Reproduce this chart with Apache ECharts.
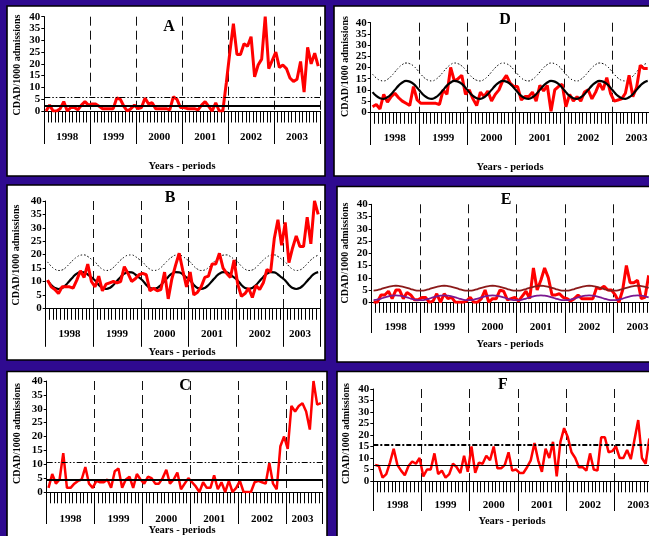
<!DOCTYPE html>
<html>
<head>
<meta charset="utf-8">
<title>CDAD rates by period, 1998-2003</title>
<script src="https://cdn.jsdelivr.net/npm/echarts@6.0.0/dist/echarts.min.js"></script>
<style>
  html, body { margin: 0; padding: 0; background: #2f0a90; }
  #chart { width: 649px; height: 536px; }
</style>
</head>
<body>
<div id="chart"></div>
<script>
// Years and number of four-week periods shown in each year
const years = ['1998', '1999', '2000', '2001', '2002', '2003'];
const periodsFull = [13, 13, 13, 13, 13, 13];
const periodsShort = [13, 13, 13, 13, 13, 10];
const yTicks = { min: 0, max: 40, step: 5 };

// CDAD per 1000 admissions, one value per period
const rateA = [
  0, 2.5, 0, 0, 1, 4, 0, 1.5, 1.5, 0.5, 2.5, 4, 2.5,
  3, 3, 2, 1, 1, 1, 1, 5.5, 5, 2, 0, 1, 2.5,
  1, 1.5, 5.5, 3, 3.5, 1, 1, 1, 1, 0.5, 6, 5, 1.5,
  1.5, 1, 1, 1, 0.5, 2.5, 4, 2, 0, 3.5, 0, 0, 12,
  25, 37, 24, 24, 28.5, 27.5, 31.5, 14.5, 19.5, 22, 40, 18, 21.5,
  25, 18.5, 19.5, 18, 14, 12.5, 13.5, 21, 8, 27, 20, 24.5, 19
];
const rateB = [
  10.5, 8, 7, 5.5, 8, 8, 8, 7.5, 10.5, 14, 11.5, 16.5, 10,
  8, 12, 6.5, 9, 9.5, 10, 9.5, 10, 15.5, 13, 10, 11, 12.5,
  13, 12.5, 6.5, 7.5, 6.5, 7, 13.5, 3.5, 11, 16, 20.5, 14, 8,
  13.5, 5, 6, 8, 11.5, 12, 16.5, 16.5, 20.5, 15, 13, 11.5, 18,
  9, 4.5, 5.5, 7.5, 4, 8.5, 7, 9.5, 14.5, 13.5, 26, 33, 23.5,
  32, 17, 22.5, 27, 23, 23, 34, 24, 40, 35
];
const rateC = [
  1.5, 6.5, 3, 4.5, 14, 1.5, 1.5, 3, 4, 4.5, 9, 3, 1.5,
  4, 3.5, 3.5, 4.5, 1.5, 7.5, 8.5, 1.5, 4.5, 5.5, 1.5, 6.5, 4.5,
  3, 5.5, 5, 3, 3, 5, 8, 3, 4.5, 7, 1, 3, 5,
  3.5, 2, 0, 3.5, 1.5, 1.5, 6, 1, 3.5, 0, 4, 0, 1.5,
  4, 0, 0, 0, 3.5, 4, 3.5, 3, 10.5, 3, 1, 16.5, 20,
  15.5, 31, 29, 31, 32, 29, 22.5, 40, 31.5, 32
];
const rateD = [
  2.5, 3.5, 1.5, 8, 4.5, 7, 8.5, 6.5, 5, 4, 3, 11.5, 5.5,
  4, 4, 4, 4, 4, 3.5, 10, 8, 20, 14, 15, 16.5, 8,
  10, 6, 3, 9, 7, 9.5, 5, 8, 10, 14, 16.5, 13, 11.5,
  11.5, 5.5, 7, 7, 9, 5, 12, 9.5, 12, 0.5, 10, 11.5, 12.5,
  2.5, 8, 5, 7, 5, 9, 10, 6, 9, 13, 10, 15.5, 8.5,
  5, 5.5, 6, 8.5, 16.5, 7, 11, 21, 19.5, 19.5
];
const rateE = [
  0, 0, 3, 3, 4.5, 1.5, 5, 5, 1.5, 4, 3, 1, 1,
  2, 2, 0, 0.5, 3.5, 0, 3.5, 1.5, 2, 0, 0, 0, 0.5,
  2, 0, 0, 1.5, 5, 0, 1.5, 1.5, 5, 4.5, 1, 1.5, 2,
  0.5, 2.5, 4.5, 1.5, 14, 5, 9, 14, 10, 3, 3, 3.5, 2,
  1.5, 0.5, 1.5, 3, 1.5, 1.5, 1.5, 1.5, 6, 5.5, 6.5, 5, 5,
  3, 0, 5, 15, 8, 8, 9, 1.5, 2, 11
];
const rateF = [
  7, 6.5, 1.5, 3, 8, 14, 7, 4.5, 2.5, 6.5, 8.5, 7.5, 10,
  2, 5, 5, 12, 3, 4.5, 1.5, 3, 7.5, 6, 3.5, 11, 4,
  15, 3.5, 8, 7.5, 11, 9, 15, 5.5, 5.5, 7, 12.5, 4.5, 5,
  3.5, 3.5, 6, 9, 16.5, 9, 4, 14, 10, 17, 2, 17, 23,
  19, 12.5, 10, 6, 6, 4.5, 12, 5, 4.5, 19, 19, 12.5, 13,
  15, 10, 10, 13.5, 9.5, 18, 26.5, 10, 7.5, 18.5
];

// Seasonal baseline (solid) and epidemic threshold (dotted) curves
const baseB = [
  10.4, 8.7, 7.6, 7.2, 7.6, 8.7, 10.2, 11.7, 12.9, 13.5, 13.4, 12.6, 11.5,
  10.4, 8.7, 7.6, 7.2, 7.6, 8.7, 10.2, 11.7, 12.9, 13.5, 13.4, 12.6, 11.5,
  10.4, 8.7, 7.6, 7.2, 7.6, 8.7, 10.2, 11.7, 12.9, 13.5, 13.4, 12.6, 11.5,
  10.4, 8.7, 7.6, 7.2, 7.6, 8.7, 10.2, 11.7, 12.9, 13.5, 13.4, 12.6, 11.5,
  10.4, 8.7, 7.6, 7.2, 7.6, 8.7, 10.2, 11.7, 12.9, 13.5, 13.4, 12.6, 11.5,
  10.4, 8.7, 7.6, 7.2, 7.6, 8.7, 10.2, 11.7, 12.9, 13.5
];
const upperB = [
  17.3, 15.7, 14.6, 14.1, 14.3, 15.2, 16.6, 18.0, 19.1, 19.8, 19.9, 19.3, 18.3,
  17.3, 15.7, 14.6, 14.1, 14.3, 15.2, 16.6, 18.0, 19.1, 19.8, 19.9, 19.3, 18.3,
  17.3, 15.7, 14.6, 14.1, 14.3, 15.2, 16.6, 18.0, 19.1, 19.8, 19.9, 19.3, 18.3,
  17.3, 15.7, 14.6, 14.1, 14.3, 15.2, 16.6, 18.0, 19.1, 19.8, 19.9, 19.3, 18.3,
  17.3, 15.7, 14.6, 14.1, 14.3, 15.2, 16.6, 18.0, 19.1, 19.8, 19.9, 19.3, 18.3,
  17.3, 15.7, 14.6, 14.1, 14.3, 15.2, 16.6, 18.0, 19.1, 19.8
];
const baseD = [
  9.0, 7.3, 6.3, 6.0, 6.7, 8.1, 10.0, 11.9, 13.3, 14.0, 13.7, 12.7, 11.0,
  9.0, 7.3, 6.3, 6.0, 6.7, 8.1, 10.0, 11.9, 13.3, 14.0, 13.7, 12.7, 11.0,
  9.0, 7.3, 6.3, 6.0, 6.7, 8.1, 10.0, 11.9, 13.3, 14.0, 13.7, 12.7, 11.0,
  9.0, 7.3, 6.3, 6.0, 6.7, 8.1, 10.0, 11.9, 13.3, 14.0, 13.7, 12.7, 11.0,
  9.0, 7.3, 6.3, 6.0, 6.7, 8.1, 10.0, 11.9, 13.3, 14.0, 13.7, 12.7, 11.0,
  9.0, 7.3, 6.3, 6.0, 6.7, 8.1, 10.0, 11.9, 13.3, 14.0
];
const upperD = [
  17.0, 15.3, 14.3, 14.0, 14.7, 16.1, 18.0, 19.9, 21.3, 22.0, 21.7, 20.7, 19.0,
  17.0, 15.3, 14.3, 14.0, 14.7, 16.1, 18.0, 19.9, 21.3, 22.0, 21.7, 20.7, 19.0,
  17.0, 15.3, 14.3, 14.0, 14.7, 16.1, 18.0, 19.9, 21.3, 22.0, 21.7, 20.7, 19.0,
  17.0, 15.3, 14.3, 14.0, 14.7, 16.1, 18.0, 19.9, 21.3, 22.0, 21.7, 20.7, 19.0,
  17.0, 15.3, 14.3, 14.0, 14.7, 16.1, 18.0, 19.9, 21.3, 22.0, 21.7, 20.7, 19.0,
  17.0, 15.3, 14.3, 14.0, 14.7, 16.1, 18.0, 19.9, 21.3, 22.0
];
const upperE = [
  4.8, 5.0, 5.4, 5.9, 6.3, 6.6, 6.75, 6.6, 6.3, 5.9, 5.4, 5.0, 4.8,
  4.8, 5.0, 5.4, 5.9, 6.3, 6.6, 6.75, 6.6, 6.3, 5.9, 5.4, 5.0, 4.8,
  4.8, 5.0, 5.4, 5.9, 6.3, 6.6, 6.75, 6.6, 6.3, 5.9, 5.4, 5.0, 4.8,
  4.8, 5.0, 5.4, 5.9, 6.3, 6.6, 6.75, 6.6, 6.3, 5.9, 5.4, 5.0, 4.8,
  4.8, 5.0, 5.4, 5.9, 6.3, 6.6, 6.75, 6.6, 6.3, 5.9, 5.4, 5.0, 4.8,
  4.8, 5.0, 5.4, 5.9, 6.3, 6.6, 6.75, 6.6, 6.3, 5.9
];
const baseE = [
  0.9, 1.1, 1.5, 2.0, 2.4, 2.7, 2.85, 2.7, 2.4, 2.0, 1.5, 1.1, 0.9,
  0.9, 1.1, 1.5, 2.0, 2.4, 2.7, 2.85, 2.7, 2.4, 2.0, 1.5, 1.1, 0.9,
  0.9, 1.1, 1.5, 2.0, 2.4, 2.7, 2.85, 2.7, 2.4, 2.0, 1.5, 1.1, 0.9,
  0.9, 1.1, 1.5, 2.0, 2.4, 2.7, 2.85, 2.7, 2.4, 2.0, 1.5, 1.1, 0.9,
  0.9, 1.1, 1.5, 2.0, 2.4, 2.7, 2.85, 2.7, 2.4, 2.0, 1.5, 1.1, 0.9,
  0.9, 1.1, 1.5, 2.0, 2.4, 2.7, 2.85, 2.7, 2.4, 2.0
];

// Constant reference levels (mean and alert threshold)
const levelsA = { mean: 2.2, alert: 6.0 };
const levelsC = { mean: 4.4, alert: 10.8 };
const levelsF = { mean: 7, alert: 15.6 };

const SERIF = '"Liberation Serif", "Times New Roman", serif';
const RED = '#ff0000';

const grids = [], xAxes = [], yAxes = [], series = [], graphics = [];

function periodCategories(counts) {
  const out = [];
  counts.forEach((n, i) => { for (let p = 1; p <= n; p++) out.push(years[i] + '-' + p); });
  return out;
}

function addPanel(p) {
  const gi = grids.length;
  const cats = periodCategories(p.counts);
  const starts = [], mids = [];
  let s = 0;
  p.counts.forEach(n => { starts.push(s); mids.push(s + Math.floor((n - 1) / 2)); s += n; });

  grids.push({ left: p.box[0], top: p.box[1], width: p.box[2], height: p.box[3],
               outerBoundsMode: 'none', containLabel: false, show: false });

  const periodAxis = xAxes.length;
  xAxes.push({
    gridIndex: gi, type: 'category', position: 'bottom', data: cats, boundaryGap: true,
    axisLine: { show: true, onZero: false, lineStyle: { color: '#000', width: 1 } },
    axisTick: { show: true, interval: 0, length: p.minorTick, lineStyle: { color: '#000', width: 1 } },
    axisLabel: { show: false }, splitLine: { show: false }
  });
  const yearAxis = xAxes.length;
  xAxes.push({
    gridIndex: gi, type: 'category', position: 'bottom', data: cats, boundaryGap: true,
    axisLine: { show: false, onZero: false },
    axisTick: { show: true, interval: (i) => starts.includes(i), length: p.yearTick,
                lineStyle: { color: '#000', width: 1 } },
    axisLabel: { show: true, interval: (i) => mids.includes(i), formatter: (v) => v.split('-')[0],
                 margin: p.yearMargin, color: '#000', fontFamily: SERIF, fontWeight: 'bold', fontSize: 11 },
    splitLine: { show: true, interval: (i) => starts.includes(i),
                 lineStyle: { color: '#111', type: [9, 5], width: 1 } }
  });
  const yi = yAxes.length;
  yAxes.push({
    gridIndex: gi, type: 'value', min: yTicks.min, max: yTicks.max, interval: yTicks.step,
    axisLine: { show: true, lineStyle: { color: '#000', width: 1 } },
    axisTick: { show: true, length: 3, lineStyle: { color: '#000', width: 1 } },
    axisLabel: { margin: 4, color: '#000', fontFamily: SERIF, fontWeight: 'bold', fontSize: 11 },
    splitLine: { show: false }
  });

  (p.lines || []).forEach(l => {
    series.push({
      type: 'line', xAxisIndex: periodAxis, yAxisIndex: yi, data: l.data,
      showSymbol: false, symbol: 'none', smooth: l.smooth || false, z: l.z || 3,
      lineStyle: { color: l.color, width: l.width, type: l.type || 'solid' },
      silent: true
    });
  });

  if (p.marks) {
    series.push({
      type: 'line', xAxisIndex: yearAxis, yAxisIndex: yi, data: [], z: 6, silent: true,
      markLine: {
        silent: true, symbol: ['none', 'none'], label: { show: false }, animation: false,
        data: p.marks.map(m => ({ yAxis: m.value, lineStyle: { color: '#000', width: m.width, type: m.type } }))
      }
    });
  }

  // panel frame and captions
  graphics.push({ type: 'rect', z: -10, shape: { x: p.frame[0], y: p.frame[1], width: p.frame[2], height: p.frame[3] },
                  style: { fill: '#fff', stroke: '#000', lineWidth: 1.6 } });
  graphics.push({ type: 'text', z: 50, x: p.letterAt[0], y: p.letterAt[1],
                  style: { text: p.letter, font: 'bold 16px ' + SERIF, fill: '#000', textAlign: 'center', textVerticalAlign: 'middle' } });
  graphics.push({ type: 'text', z: 50, x: p.yNameAt[0], y: p.yNameAt[1], rotation: Math.PI / 2,
                  style: { text: 'CDAD/1000 admissions', font: 'bold 10px ' + SERIF, fill: '#000', textAlign: 'center', textVerticalAlign: 'middle' } });
  graphics.push({ type: 'text', z: 50, x: p.xNameAt[0], y: p.xNameAt[1],
                  style: { text: 'Years - periods', font: 'bold 10.5px ' + SERIF, fill: '#000', textAlign: 'center', textVerticalAlign: 'middle' } });
}

const dashDotDot = [6, 2, 1.5, 2, 1.5, 2];

addPanel({
  letter: 'A', counts: periodsFull, box: [44.3, 16.7, 275.7, 94.3], frame: [7, 6, 318, 170],
  minorTick: 11.5, yearTick: 33, yearMargin: 20.5,
  letterAt: [169, 27], yNameAt: [17, 65], xNameAt: [182, 166],
  lines: [{ data: rateA, color: RED, width: 3 }],
  marks: [{ value: levelsA.mean, width: 2, type: 'solid' }, { value: levelsA.alert, width: 1, type: dashDotDot }]
});
addPanel({
  letter: 'D', counts: periodsFull, box: [370.7, 22.7, 290, 89.6], frame: [334, 6, 330, 170],
  minorTick: 11.5, yearTick: 32.7, yearMargin: 20,
  letterAt: [505, 20], yNameAt: [345, 66.5], xNameAt: [510, 167],
  lines: [
    { data: upperD, color: '#000', width: 1, type: [1.5, 2], smooth: 0.5, z: 3 },
    { data: rateD, color: RED, width: 3, z: 3 },
    { data: baseD, color: '#000', width: 2.2, smooth: 0.5, z: 4 }
  ]
});
addPanel({
  letter: 'B', counts: periodsShort, box: [45.7, 201, 274.3, 107.3], frame: [7, 185, 318, 175],
  minorTick: 11.5, yearTick: 38.5, yearMargin: 20,
  letterAt: [170, 198], yNameAt: [16.7, 255], xNameAt: [182, 352],
  lines: [
    { data: upperB, color: '#000', width: 1, type: [1.5, 2], smooth: 0.5, z: 3 },
    { data: baseB, color: '#000', width: 2.2, smooth: 0.5, z: 3 },
    { data: rateB, color: RED, width: 3, z: 4 }
  ]
});
addPanel({
  letter: 'E', counts: periodsFull, box: [371.7, 204.3, 290, 98], frame: [337, 186.5, 330, 175.5],
  minorTick: 10.5, yearTick: 30.7, yearMargin: 19,
  letterAt: [506, 200], yNameAt: [345, 253], xNameAt: [510, 344],
  lines: [
    { data: rateE, color: RED, width: 3, z: 3 },
    { data: upperE, color: '#8b1a1a', width: 1.8, smooth: 0.5, z: 4 },
    { data: baseE, color: '#7b1890', width: 1.8, smooth: 0.5, z: 4 }
  ]
});
addPanel({
  letter: 'C', counts: periodsShort, box: [46.7, 381, 276, 111], frame: [7, 371.5, 320, 170],
  minorTick: 11.3, yearTick: 32, yearMargin: 21.5,
  letterAt: [185, 386], yNameAt: [17, 433.5], xNameAt: [182, 530.5],
  lines: [{ data: rateC, color: RED, width: 2.5 }],
  marks: [{ value: levelsC.mean, width: 2.2, type: 'solid' }, { value: levelsC.alert, width: 1, type: dashDotDot }]
});
addPanel({
  letter: 'F', counts: periodsFull, box: [373.3, 389, 289, 92], frame: [337, 371.5, 330, 170],
  minorTick: 11.3, yearTick: 30, yearMargin: 18.5,
  letterAt: [503, 385], yNameAt: [346, 433.5], xNameAt: [512, 521.7],
  lines: [{ data: rateF, color: RED, width: 2.5 }],
  marks: [{ value: levelsF.mean, width: 1.2, type: 'solid' }, { value: levelsF.alert, width: 2, type: [5, 2, 2, 2] }]
});

const chart = echarts.init(document.getElementById('chart'), null, { renderer: 'canvas' });
chart.setOption({
  animation: false,
  backgroundColor: '#2f0a90',
  grid: grids, xAxis: xAxes, yAxis: yAxes, series: series,
  graphic: { elements: graphics }
});
</script>
</body>
</html>
